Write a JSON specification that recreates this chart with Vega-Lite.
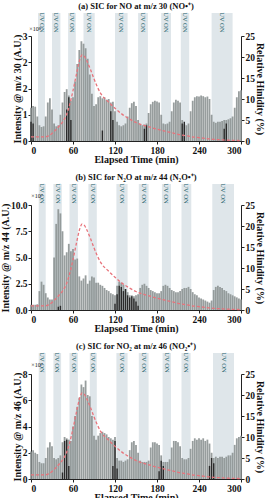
{
"$schema":"https://vega.github.io/schema/vega-lite/v6.json",
"padding":{"left":0,"top":1,"right":2,"bottom":0},
"spacing":7,
"config":{"view":{"stroke":null},"font":"Liberation Serif",
"scale":{"continuousPadding":0},
"axis":{"labelFont":"Liberation Serif","labelFontWeight":"bold","labelFontSize":9.5,"labelColor":"#111","titleFont":"Liberation Serif","titleFontWeight":"bold","titleFontSize":10,"titleColor":"#111","domainColor":"#222","tickColor":"#222","grid":false,"tickSize":3,"labelPadding":1,"titlePadding":0},
"title":{"font":"Liberation Serif","fontSize":8.5,"fontWeight":"bold","offset":2,"color":"#111"}},
"datasets":{
"uv":[{"p":"a","s":10,"e":20},{"p":"a","s":30,"e":42},{"p":"a","s":53,"e":64},{"p":"a","s":75,"e":91},{"p":"a","s":120,"e":138},{"p":"a","s":153,"e":167},{"p":"a","s":186,"e":200},{"p":"a","s":214,"e":226},{"p":"a","s":258,"e":288},
{"p":"b","s":11,"e":21},{"p":"b","s":32,"e":44},{"p":"b","s":55,"e":67},{"p":"b","s":82,"e":94},{"p":"b","s":122,"e":138},{"p":"b","s":154,"e":168},{"p":"b","s":187,"e":200},{"p":"b","s":215,"e":229},{"p":"b","s":259,"e":290},
{"p":"c","s":11,"e":21},{"p":"c","s":32,"e":43},{"p":"c","s":55,"e":67},{"p":"c","s":84,"e":94},{"p":"c","s":122,"e":138},{"p":"c","s":154,"e":168},{"p":"c","s":188,"e":200},{"p":"c","s":215,"e":228},{"p":"c","s":260,"e":290}],
"rh":[{"t":0,"h":1.0},{"t":10,"h":1.0},{"t":20,"h":1.0},{"t":25,"h":1.2},{"t":30,"h":1.8},{"t":35,"h":2.6},{"t":40,"h":3.5},{"t":45,"h":4.5},{"t":50,"h":6.0},{"t":55,"h":8.5},{"t":60,"h":12.0},{"t":65,"h":16.0},{"t":70,"h":19.5},{"t":73,"h":20.5},{"t":76,"h":20.2},{"t":80,"h":19.0},{"t":85,"h":17.0},{"t":90,"h":14.8},{"t":95,"h":12.8},{"t":100,"h":11.2},{"t":110,"h":9.4},{"t":120,"h":7.8},{"t":130,"h":6.4},{"t":140,"h":5.3},{"t":150,"h":4.4},{"t":160,"h":3.8},{"t":170,"h":3.3},{"t":180,"h":2.8},{"t":190,"h":2.4},{"t":200,"h":2.0},{"t":210,"h":1.6},{"t":220,"h":1.3},{"t":230,"h":1.0},{"t":240,"h":0.8},{"t":250,"h":0.6},{"t":260,"h":0.4},{"t":270,"h":0.3},{"t":280,"h":0.2},{"t":290,"h":0.15},{"t":300,"h":0.1}],
"dark":[{"p":"a","t":0,"v":0.55},{"p":"a","t":3,"v":0.5},{"p":"a","t":51,"v":0.9},{"p":"a","t":54,"v":1.25},{"p":"a","t":57,"v":0.6},{"p":"a","t":102,"v":0.3},{"p":"a","t":114,"v":0.85},{"p":"a","t":117,"v":0.6},{"p":"a","t":162,"v":0.35},{"p":"a","t":165,"v":0.45},{"p":"a","t":216,"v":0.5},{"p":"a","t":219,"v":0.55},{"p":"a","t":276,"v":0.35},{"p":"a","t":279,"v":0.5},
{"p":"b","t":39,"v":0.3},{"p":"b","t":42,"v":0.4},{"p":"b","t":120,"v":0.6},{"p":"b","t":123,"v":1.5},{"p":"b","t":126,"v":2.3},{"p":"b","t":129,"v":2.2},{"p":"b","t":132,"v":1.8},{"p":"b","t":135,"v":2.0},{"p":"b","t":138,"v":1.4},{"p":"b","t":141,"v":1.2},{"p":"b","t":144,"v":1.3},{"p":"b","t":147,"v":1.1},{"p":"b","t":150,"v":0.8},{"p":"b","t":153,"v":0.4},
{"p":"c","t":45,"v":0.5},{"p":"c","t":48,"v":2.9},{"p":"c","t":51,"v":3.0},{"p":"c","t":54,"v":1.0},{"p":"c","t":117,"v":1.0},{"p":"c","t":120,"v":2.9},{"p":"c","t":123,"v":0.8},{"p":"c","t":183,"v":0.6},{"p":"c","t":186,"v":1.4},{"p":"c","t":189,"v":1.0},{"p":"c","t":255,"v":1.0},{"p":"c","t":258,"v":1.6},{"p":"c","t":261,"v":1.2}],
"sic":[
{"p":"a","t":0,"v":0.95},{"p":"a","t":3,"v":1.0},{"p":"a","t":6,"v":0.98},{"p":"a","t":9,"v":0.7},{"p":"a","t":12,"v":0.45},{"p":"a","t":15,"v":0.4},{"p":"a","t":18,"v":0.42},{"p":"a","t":21,"v":0.7},{"p":"a","t":24,"v":1.1},{"p":"a","t":27,"v":1.22},{"p":"a","t":30,"v":0.9},{"p":"a","t":33,"v":0.5},{"p":"a","t":36,"v":0.42},{"p":"a","t":39,"v":0.45},{"p":"a","t":42,"v":0.75},{"p":"a","t":45,"v":1.1},{"p":"a","t":48,"v":1.4},{"p":"a","t":51,"v":1.48},{"p":"a","t":54,"v":1.3},{"p":"a","t":57,"v":1.15},{"p":"a","t":60,"v":1.25},{"p":"a","t":63,"v":1.7},{"p":"a","t":66,"v":2.2},{"p":"a","t":69,"v":2.6},{"p":"a","t":72,"v":2.85},{"p":"a","t":75,"v":2.78},{"p":"a","t":78,"v":2.65},{"p":"a","t":81,"v":2.35},{"p":"a","t":84,"v":1.9},{"p":"a","t":87,"v":1.35},{"p":"a","t":90,"v":1.0},{"p":"a","t":93,"v":1.05},{"p":"a","t":96,"v":1.25},{"p":"a","t":99,"v":1.28},{"p":"a","t":102,"v":1.22},{"p":"a","t":105,"v":1.25},{"p":"a","t":108,"v":1.18},{"p":"a","t":111,"v":1.2},{"p":"a","t":114,"v":1.1},{"p":"a","t":117,"v":1.12},{"p":"a","t":120,"v":0.85},{"p":"a","t":123,"v":0.55},{"p":"a","t":126,"v":0.45},{"p":"a","t":129,"v":0.42},{"p":"a","t":132,"v":0.45},{"p":"a","t":135,"v":0.5},{"p":"a","t":138,"v":0.7},{"p":"a","t":141,"v":0.95},{"p":"a","t":144,"v":1.08},{"p":"a","t":147,"v":1.12},{"p":"a","t":150,"v":1.0},{"p":"a","t":153,"v":0.6},{"p":"a","t":156,"v":0.48},{"p":"a","t":159,"v":0.45},{"p":"a","t":162,"v":0.47},{"p":"a","t":165,"v":0.5},{"p":"a","t":168,"v":0.8},{"p":"a","t":171,"v":1.05},{"p":"a","t":174,"v":1.12},{"p":"a","t":177,"v":1.15},{"p":"a","t":180,"v":1.13},{"p":"a","t":183,"v":1.1},{"p":"a","t":186,"v":0.75},{"p":"a","t":189,"v":0.5},{"p":"a","t":192,"v":0.48},{"p":"a","t":195,"v":0.5},{"p":"a","t":198,"v":0.55},{"p":"a","t":201,"v":0.85},{"p":"a","t":204,"v":1.1},{"p":"a","t":207,"v":1.18},{"p":"a","t":210,"v":1.15},{"p":"a","t":213,"v":1.1},{"p":"a","t":216,"v":0.6},{"p":"a","t":219,"v":0.48},{"p":"a","t":222,"v":0.45},{"p":"a","t":225,"v":0.5},{"p":"a","t":228,"v":0.85},{"p":"a","t":231,"v":1.15},{"p":"a","t":234,"v":1.25},{"p":"a","t":237,"v":1.28},{"p":"a","t":240,"v":1.27},{"p":"a","t":243,"v":1.3},{"p":"a","t":246,"v":1.28},{"p":"a","t":249,"v":1.25},{"p":"a","t":252,"v":1.27},{"p":"a","t":255,"v":1.2},{"p":"a","t":258,"v":0.75},{"p":"a","t":261,"v":0.55},{"p":"a","t":264,"v":0.52},{"p":"a","t":267,"v":0.55},{"p":"a","t":270,"v":0.55},{"p":"a","t":273,"v":0.57},{"p":"a","t":276,"v":0.6},{"p":"a","t":279,"v":0.6},{"p":"a","t":282,"v":0.62},{"p":"a","t":285,"v":0.65},{"p":"a","t":288,"v":0.7},{"p":"a","t":291,"v":0.95},{"p":"a","t":294,"v":1.25},{"p":"a","t":297,"v":1.42},{"p":"a","t":300,"v":1.45},
{"p":"b","t":0,"v":0.5},{"p":"b","t":3,"v":0.5},{"p":"b","t":6,"v":0.5},{"p":"b","t":9,"v":0.55},{"p":"b","t":12,"v":1.8},{"p":"b","t":15,"v":2.7},{"p":"b","t":18,"v":2.4},{"p":"b","t":21,"v":1.6},{"p":"b","t":24,"v":1.2},{"p":"b","t":27,"v":1.0},{"p":"b","t":30,"v":1.0},{"p":"b","t":33,"v":5.0},{"p":"b","t":36,"v":8.2},{"p":"b","t":39,"v":9.6},{"p":"b","t":42,"v":9.2},{"p":"b","t":45,"v":7.5},{"p":"b","t":48,"v":5.2},{"p":"b","t":51,"v":5.5},{"p":"b","t":54,"v":6.3},{"p":"b","t":57,"v":5.6},{"p":"b","t":60,"v":5.8},{"p":"b","t":63,"v":4.8},{"p":"b","t":66,"v":4.9},{"p":"b","t":69,"v":3.2},{"p":"b","t":72,"v":2.8},{"p":"b","t":75,"v":3.0},{"p":"b","t":78,"v":3.3},{"p":"b","t":81,"v":2.5},{"p":"b","t":84,"v":2.8},{"p":"b","t":87,"v":3.2},{"p":"b","t":90,"v":3.1},{"p":"b","t":93,"v":2.6},{"p":"b","t":96,"v":2.6},{"p":"b","t":99,"v":2.4},{"p":"b","t":102,"v":2.3},{"p":"b","t":105,"v":2.1},{"p":"b","t":108,"v":1.9},{"p":"b","t":111,"v":1.8},{"p":"b","t":114,"v":1.6},{"p":"b","t":117,"v":1.5},{"p":"b","t":120,"v":1.4},{"p":"b","t":123,"v":2.3},{"p":"b","t":126,"v":2.7},{"p":"b","t":129,"v":2.6},{"p":"b","t":132,"v":2.4},{"p":"b","t":135,"v":2.0},{"p":"b","t":138,"v":1.7},{"p":"b","t":141,"v":1.4},{"p":"b","t":144,"v":1.4},{"p":"b","t":147,"v":1.3},{"p":"b","t":150,"v":1.4},{"p":"b","t":153,"v":1.5},{"p":"b","t":156,"v":2.1},{"p":"b","t":159,"v":2.4},{"p":"b","t":162,"v":2.5},{"p":"b","t":165,"v":2.3},{"p":"b","t":168,"v":2.1},{"p":"b","t":171,"v":1.9},{"p":"b","t":174,"v":1.8},{"p":"b","t":177,"v":1.7},{"p":"b","t":180,"v":1.6},{"p":"b","t":183,"v":1.6},{"p":"b","t":186,"v":1.8},{"p":"b","t":189,"v":2.3},{"p":"b","t":192,"v":2.4},{"p":"b","t":195,"v":2.3},{"p":"b","t":198,"v":2.1},{"p":"b","t":201,"v":1.9},{"p":"b","t":204,"v":1.8},{"p":"b","t":207,"v":1.7},{"p":"b","t":210,"v":1.7},{"p":"b","t":213,"v":1.8},{"p":"b","t":216,"v":2.0},{"p":"b","t":219,"v":2.1},{"p":"b","t":222,"v":2.1},{"p":"b","t":225,"v":2.2},{"p":"b","t":228,"v":2.0},{"p":"b","t":231,"v":1.7},{"p":"b","t":234,"v":1.5},{"p":"b","t":237,"v":1.4},{"p":"b","t":240,"v":1.2},{"p":"b","t":243,"v":1.1},{"p":"b","t":246,"v":1.0},{"p":"b","t":249,"v":0.9},{"p":"b","t":252,"v":0.8},{"p":"b","t":255,"v":0.7},{"p":"b","t":258,"v":0.9},{"p":"b","t":261,"v":1.9},{"p":"b","t":264,"v":2.2},{"p":"b","t":267,"v":2.3},{"p":"b","t":270,"v":2.2},{"p":"b","t":273,"v":2.1},{"p":"b","t":276,"v":1.9},{"p":"b","t":279,"v":1.8},{"p":"b","t":282,"v":1.6},{"p":"b","t":285,"v":1.5},{"p":"b","t":288,"v":1.4},{"p":"b","t":291,"v":1.3},{"p":"b","t":294,"v":1.2},{"p":"b","t":297,"v":1.1},{"p":"b","t":300,"v":1.0},
{"p":"c","t":0,"v":2.1},{"p":"c","t":3,"v":2.2},{"p":"c","t":6,"v":2.0},{"p":"c","t":9,"v":1.9},{"p":"c","t":12,"v":1.3},{"p":"c","t":15,"v":1.2},{"p":"c","t":18,"v":1.2},{"p":"c","t":21,"v":1.6},{"p":"c","t":24,"v":2.4},{"p":"c","t":27,"v":2.8},{"p":"c","t":30,"v":2.5},{"p":"c","t":33,"v":1.6},{"p":"c","t":36,"v":1.5},{"p":"c","t":39,"v":1.6},{"p":"c","t":42,"v":1.8},{"p":"c","t":45,"v":2.8},{"p":"c","t":48,"v":3.2},{"p":"c","t":51,"v":3.1},{"p":"c","t":54,"v":3.0},{"p":"c","t":57,"v":2.9},{"p":"c","t":60,"v":4.0},{"p":"c","t":63,"v":4.8},{"p":"c","t":66,"v":5.5},{"p":"c","t":69,"v":6.2},{"p":"c","t":72,"v":7.2},{"p":"c","t":75,"v":7.0},{"p":"c","t":78,"v":7.5},{"p":"c","t":81,"v":6.4},{"p":"c","t":84,"v":6.3},{"p":"c","t":87,"v":4.8},{"p":"c","t":90,"v":3.3},{"p":"c","t":93,"v":3.0},{"p":"c","t":96,"v":3.3},{"p":"c","t":99,"v":3.5},{"p":"c","t":102,"v":3.6},{"p":"c","t":105,"v":3.5},{"p":"c","t":108,"v":3.4},{"p":"c","t":111,"v":3.2},{"p":"c","t":114,"v":3.1},{"p":"c","t":117,"v":3.0},{"p":"c","t":120,"v":3.2},{"p":"c","t":123,"v":1.6},{"p":"c","t":126,"v":1.4},{"p":"c","t":129,"v":1.4},{"p":"c","t":132,"v":1.3},{"p":"c","t":135,"v":1.4},{"p":"c","t":138,"v":1.5},{"p":"c","t":141,"v":2.2},{"p":"c","t":144,"v":2.8},{"p":"c","t":147,"v":2.9},{"p":"c","t":150,"v":2.6},{"p":"c","t":153,"v":2.0},{"p":"c","t":156,"v":1.4},{"p":"c","t":159,"v":1.3},{"p":"c","t":162,"v":1.3},{"p":"c","t":165,"v":1.3},{"p":"c","t":168,"v":1.4},{"p":"c","t":171,"v":2.4},{"p":"c","t":174,"v":2.8},{"p":"c","t":177,"v":2.8},{"p":"c","t":180,"v":2.7},{"p":"c","t":183,"v":2.6},{"p":"c","t":186,"v":1.8},{"p":"c","t":189,"v":1.3},{"p":"c","t":192,"v":1.3},{"p":"c","t":195,"v":1.3},{"p":"c","t":198,"v":1.5},{"p":"c","t":201,"v":2.4},{"p":"c","t":204,"v":2.9},{"p":"c","t":207,"v":2.9},{"p":"c","t":210,"v":2.8},{"p":"c","t":213,"v":2.5},{"p":"c","t":216,"v":1.6},{"p":"c","t":219,"v":1.5},{"p":"c","t":222,"v":1.5},{"p":"c","t":225,"v":1.6},{"p":"c","t":228,"v":2.3},{"p":"c","t":231,"v":2.9},{"p":"c","t":234,"v":3.1},{"p":"c","t":237,"v":3.0},{"p":"c","t":240,"v":3.1},{"p":"c","t":243,"v":3.0},{"p":"c","t":246,"v":3.1},{"p":"c","t":249,"v":2.9},{"p":"c","t":252,"v":3.0},{"p":"c","t":255,"v":2.7},{"p":"c","t":258,"v":2.0},{"p":"c","t":261,"v":1.6},{"p":"c","t":264,"v":1.7},{"p":"c","t":267,"v":1.6},{"p":"c","t":270,"v":1.7},{"p":"c","t":273,"v":1.7},{"p":"c","t":276,"v":1.6},{"p":"c","t":279,"v":1.7},{"p":"c","t":282,"v":1.8},{"p":"c","t":285,"v":1.8},{"p":"c","t":288,"v":2.0},{"p":"c","t":291,"v":2.6},{"p":"c","t":294,"v":3.1},{"p":"c","t":297,"v":3.2},{"p":"c","t":300,"v":3.3}]
},
"vconcat":[
{"width":210,"height":105,"title":"(a) SIC for NO at m/z 30 (NO•⁺)",
"layer":[
{"data":{"name":"uv"},"transform":[{"filter":"datum.p=='a'"}],"mark":{"type":"rect","color":"#dfe6ea"},
"encoding":{"x":{"field":"s","type":"quantitative","scale":{"domain":[0,300],"nice":false,"zero":false,"padding":0}},"x2":{"field":"e"},"y":{"datum":0,"type":"quantitative","scale":{"domain":[0,1]},"axis":null},"y2":{"datum":1.22}}},
{"data":{"name":"sic"},"transform":[{"filter":"datum.p=='a'"}],"mark":{"type":"bar","size":1.8,"color":"#8c9292","opacity":0.9},
"encoding":{"x":{"field":"t","type":"quantitative","scale":{"domain":[0,300],"nice":false,"zero":false,"padding":0},"axis":{"values":[0,60,120,180,240,300],"format":"d","title":"Elapsed Time (min)"}},"y":{"field":"v","type":"quantitative","stack":null,"scale":{"domain":[0,3]},"axis":{"orient":"left","values":[0,0.75,1.5,2.25,3],"format":".0f","title":"Intensity @ m/z 30 (A.U.)"}}}},
{"data":{"name":"dark"},"transform":[{"filter":"datum.p=='a'"}],"mark":{"type":"bar","size":1.4,"color":"#2a2a2a"},
"encoding":{"x":{"field":"t","type":"quantitative"},"y":{"field":"v","type":"quantitative","stack":null,"scale":{"domain":[0,3]},"axis":null}}},
{"data":{"name":"rh"},"mark":{"type":"line","color":"#e8737b","strokeDash":[3,2],"strokeWidth":1.3,"interpolate":"monotone"},
"encoding":{"x":{"field":"t","type":"quantitative"},"y":{"field":"h","type":"quantitative","scale":{"domain":[0,25]},"axis":{"orient":"right","values":[0,5,10,15,20,25],"title":"Relative Hinidity (%)"}}}},
{"data":{"name":"uv"},"transform":[{"filter":"datum.p=='a'"},{"calculate":"(datum.s+datum.e)/2","as":"m"}],"mark":{"type":"text","text":"UV ON","angle":90,"fontSize":6.5,"color":"#245f6b","align":"center","baseline":"middle"},
"encoding":{"x":{"field":"m","type":"quantitative"},"y":{"datum":1.13,"type":"quantitative","scale":{"domain":[0,1]},"axis":null}}},
{"data":{"values":[{}]},"mark":{"type":"text","text":"×10⁸","fontSize":6,"dx":4,"align":"center","baseline":"middle","color":"#111"},
"encoding":{"x":{"datum":0,"type":"quantitative"},"y":{"datum":1.07,"type":"quantitative","scale":{"domain":[0,1]},"axis":null}}}
],
"resolve":{"scale":{"y":"independent"}}},
{"width":210,"height":105,"title":"(b) SIC for N₂O at m/z 44 (N₂O•⁺)",
"layer":[
{"data":{"name":"uv"},"transform":[{"filter":"datum.p=='b'"}],"mark":{"type":"rect","color":"#dfe6ea"},
"encoding":{"x":{"field":"s","type":"quantitative","scale":{"domain":[0,300],"nice":false,"zero":false,"padding":0}},"x2":{"field":"e"},"y":{"datum":0,"type":"quantitative","scale":{"domain":[0,1]},"axis":null},"y2":{"datum":1.2}}},
{"data":{"name":"sic"},"transform":[{"filter":"datum.p=='b'"}],"mark":{"type":"bar","size":1.8,"color":"#8c9292","opacity":0.9},
"encoding":{"x":{"field":"t","type":"quantitative","scale":{"domain":[0,300],"nice":false,"zero":false,"padding":0},"axis":{"values":[0,60,120,180,240,300],"format":"d","title":"Elapsed Time (min)"}},"y":{"field":"v","type":"quantitative","stack":null,"scale":{"domain":[0,10]},"axis":{"orient":"left","values":[0,2.5,5,7.5,10],"format":".1f","title":"Intensity @ m/z 44 (A.U.)"}}}},
{"data":{"name":"dark"},"transform":[{"filter":"datum.p=='b'"}],"mark":{"type":"bar","size":1.4,"color":"#2a2a2a"},
"encoding":{"x":{"field":"t","type":"quantitative"},"y":{"field":"v","type":"quantitative","stack":null,"scale":{"domain":[0,10]},"axis":null}}},
{"data":{"name":"rh"},"mark":{"type":"line","color":"#e8737b","strokeDash":[3,2],"strokeWidth":1.3,"interpolate":"monotone"},
"encoding":{"x":{"field":"t","type":"quantitative"},"y":{"field":"h","type":"quantitative","scale":{"domain":[0,25]},"axis":{"orient":"right","values":[0,5,10,15,20,25],"title":"Relative Hinidity (%)"}}}},
{"data":{"name":"uv"},"transform":[{"filter":"datum.p=='b'"},{"calculate":"(datum.s+datum.e)/2","as":"m"}],"mark":{"type":"text","text":"UV ON","angle":90,"fontSize":6.5,"color":"#245f6b","align":"center","baseline":"middle"},
"encoding":{"x":{"field":"m","type":"quantitative"},"y":{"datum":1.11,"type":"quantitative","scale":{"domain":[0,1]},"axis":null}}},
{"data":{"values":[{}]},"mark":{"type":"text","text":"×10⁷","fontSize":6,"dx":6,"align":"center","baseline":"middle","color":"#111"},
"encoding":{"x":{"datum":0,"type":"quantitative"},"y":{"datum":1.09,"type":"quantitative","scale":{"domain":[0,1]},"axis":null}}}
],
"resolve":{"scale":{"y":"independent"}}},
{"width":210,"height":105,"title":"(c) SIC for NO₂ at m/z 46 (NO₂•⁺)",
"layer":[
{"data":{"name":"uv"},"transform":[{"filter":"datum.p=='c'"}],"mark":{"type":"rect","color":"#dfe6ea"},
"encoding":{"x":{"field":"s","type":"quantitative","scale":{"domain":[0,300],"nice":false,"zero":false,"padding":0}},"x2":{"field":"e"},"y":{"datum":0,"type":"quantitative","scale":{"domain":[0,1]},"axis":null},"y2":{"datum":1.2}}},
{"data":{"name":"sic"},"transform":[{"filter":"datum.p=='c'"}],"mark":{"type":"bar","size":1.8,"color":"#8c9292","opacity":0.9},
"encoding":{"x":{"field":"t","type":"quantitative","scale":{"domain":[0,300],"nice":false,"zero":false,"padding":0},"axis":{"values":[0,60,120,180,240,300],"format":"d","title":"Elapsed Time (min)"}},"y":{"field":"v","type":"quantitative","stack":null,"scale":{"domain":[0,8]},"axis":{"orient":"left","values":[0,2,4,6,8],"format":"d","title":"Intensity @ m/z 46 (A.U.)"}}}},
{"data":{"name":"dark"},"transform":[{"filter":"datum.p=='c'"}],"mark":{"type":"bar","size":1.4,"color":"#2a2a2a"},
"encoding":{"x":{"field":"t","type":"quantitative"},"y":{"field":"v","type":"quantitative","stack":null,"scale":{"domain":[0,8]},"axis":null}}},
{"data":{"name":"rh"},"mark":{"type":"line","color":"#e8737b","strokeDash":[3,2],"strokeWidth":1.3,"interpolate":"monotone"},
"encoding":{"x":{"field":"t","type":"quantitative"},"y":{"field":"h","type":"quantitative","scale":{"domain":[0,25]},"axis":{"orient":"right","values":[0,5,10,15,20,25],"title":"Relative Hinidity (%)"}}}},
{"data":{"name":"uv"},"transform":[{"filter":"datum.p=='c'"},{"calculate":"(datum.s+datum.e)/2","as":"m"}],"mark":{"type":"text","text":"UV ON","angle":90,"fontSize":6.5,"color":"#245f6b","align":"center","baseline":"middle"},
"encoding":{"x":{"field":"m","type":"quantitative"},"y":{"datum":1.11,"type":"quantitative","scale":{"domain":[0,1]},"axis":null}}},
{"data":{"values":[{}]},"mark":{"type":"text","text":"×10⁷","fontSize":6,"dx":6,"align":"center","baseline":"middle","color":"#111"},
"encoding":{"x":{"datum":0,"type":"quantitative"},"y":{"datum":1.09,"type":"quantitative","scale":{"domain":[0,1]},"axis":null}}}
],
"resolve":{"scale":{"y":"independent"}}}
]
}
